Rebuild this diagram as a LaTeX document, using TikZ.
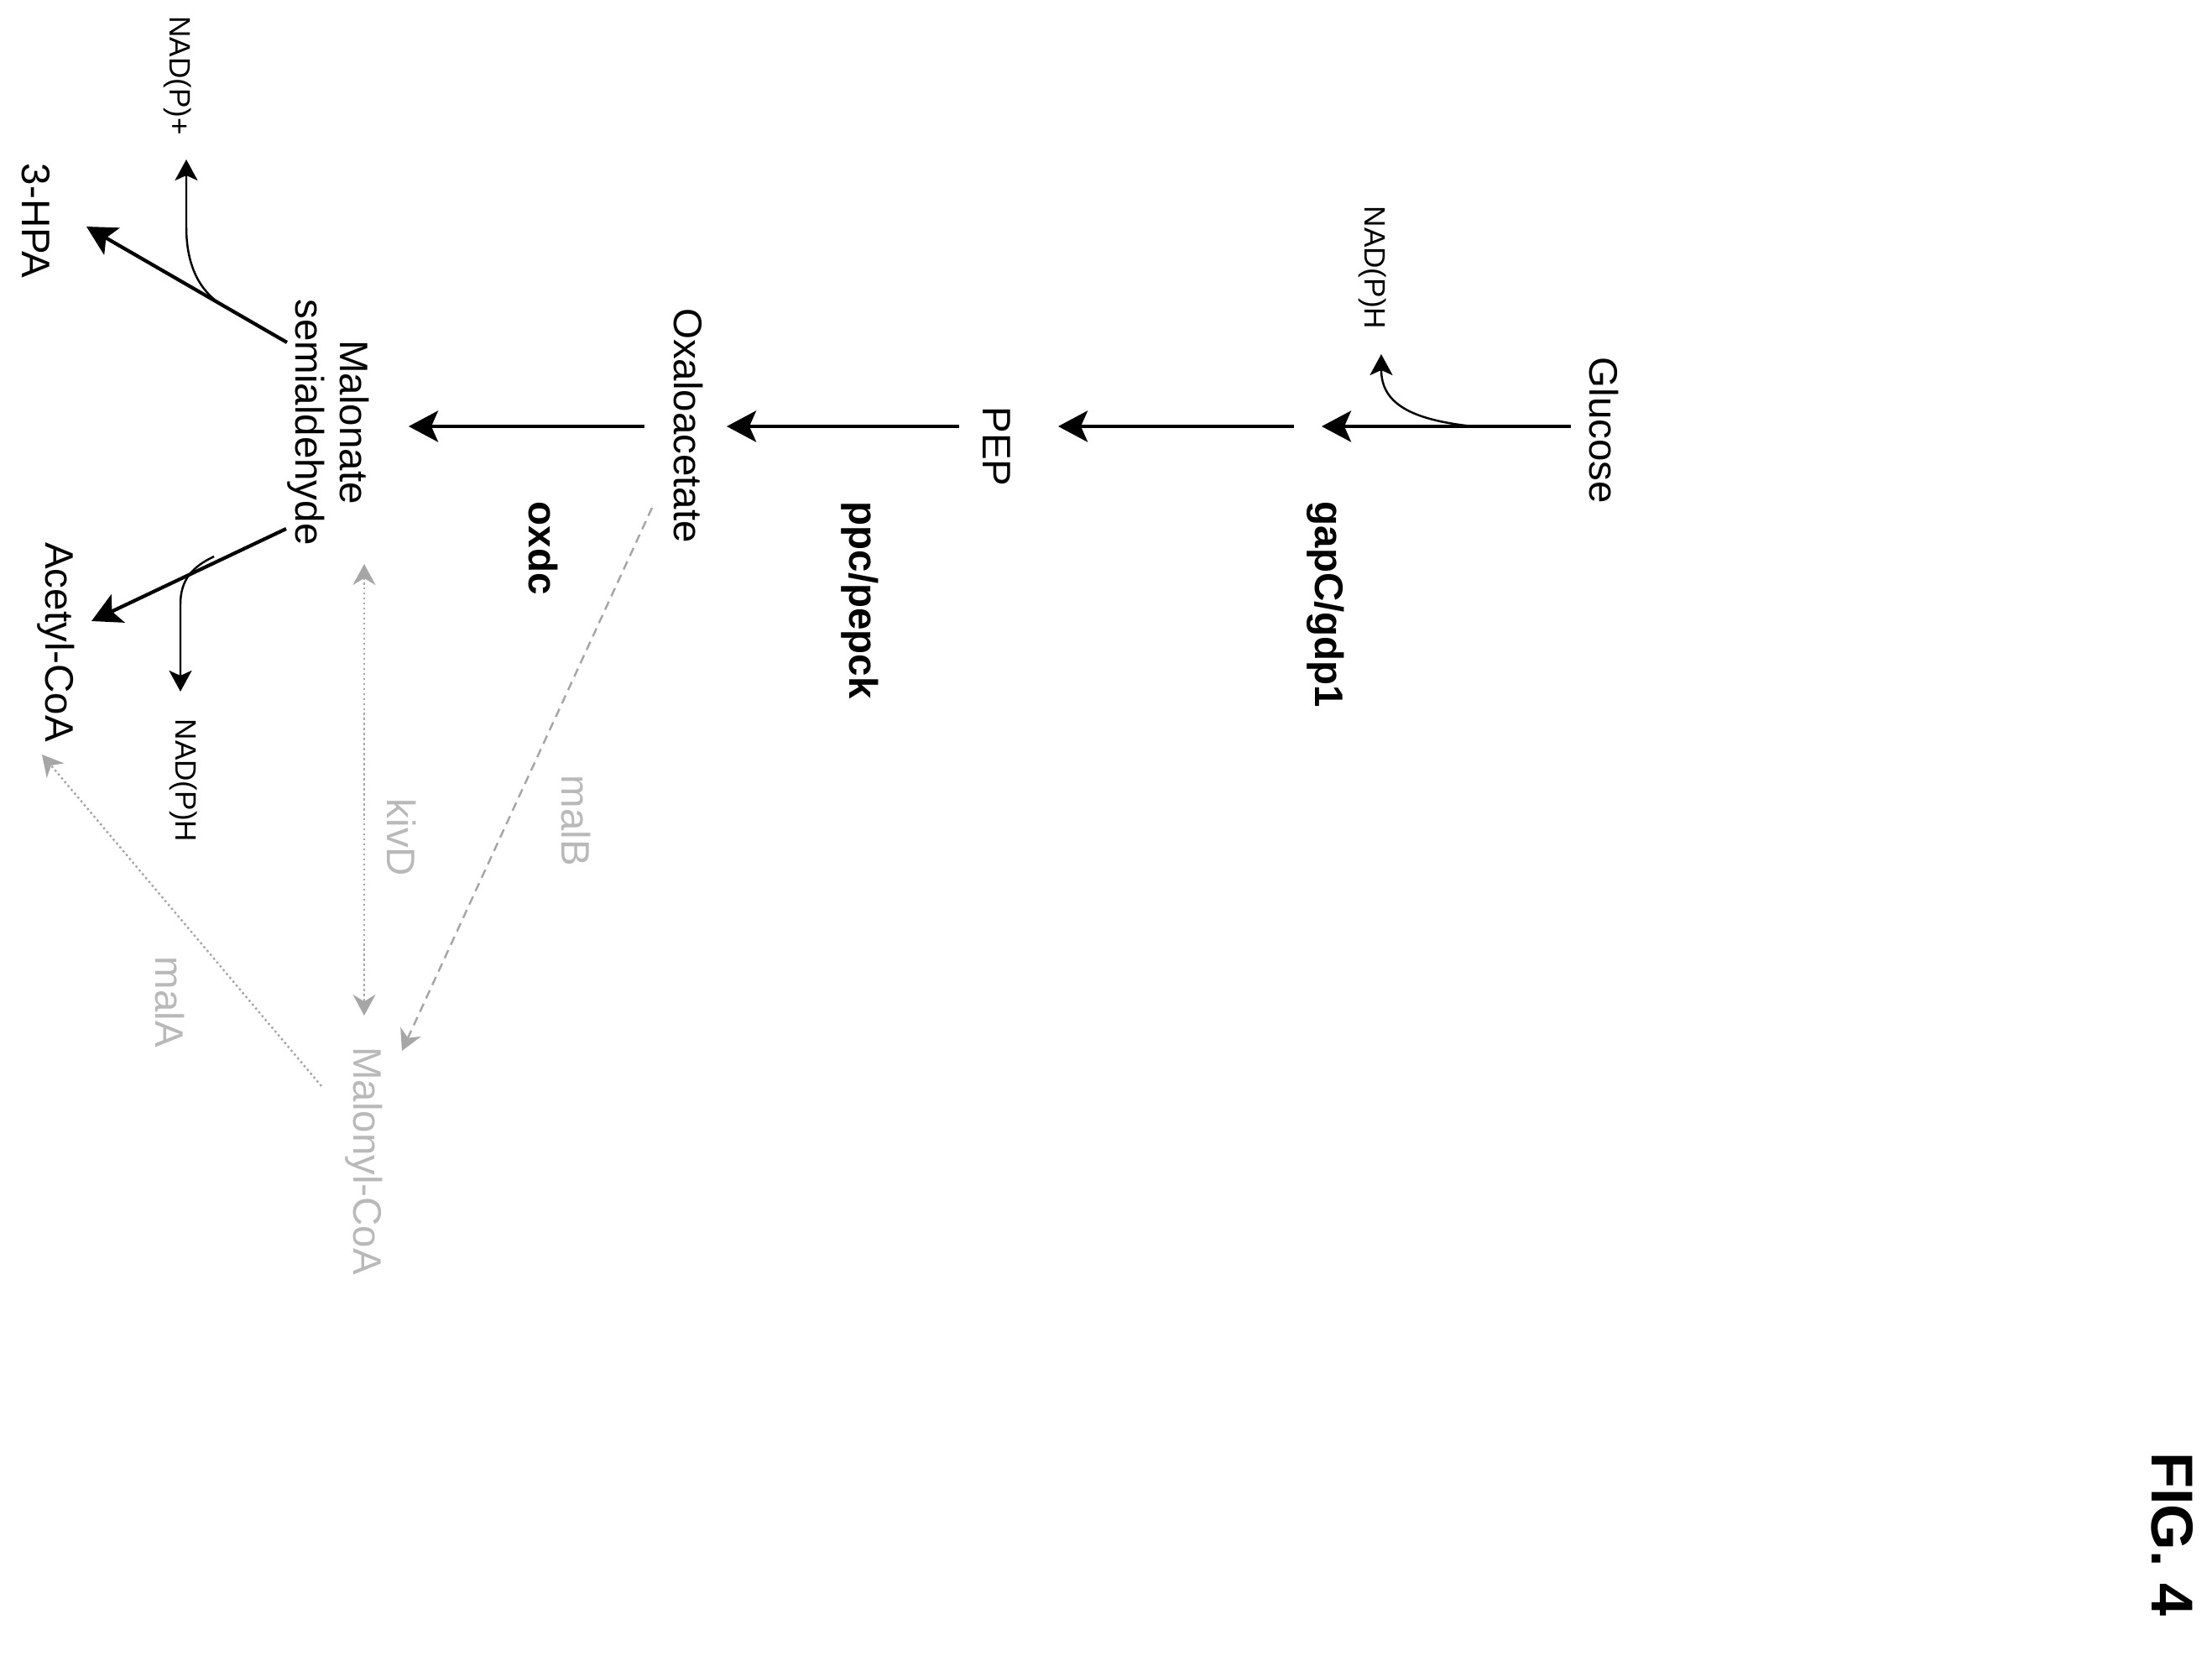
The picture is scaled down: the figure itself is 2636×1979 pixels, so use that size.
\documentclass[tikz,border=0pt]{standalone}
\usepackage{fontspec}
\setmainfont{Liberation Sans}
\usetikzlibrary{arrows.meta}
\begin{document}
\begin{tikzpicture}[x=0.01cm,y=-0.01cm,
  met/.style={rotate=-90,inner sep=0pt,font=\fontsize{13.5}{15}\selectfont,align=center},
  cof/.style={rotate=-90,inner sep=0pt,font=\fontsize{10}{12}\selectfont},
  gene/.style={rotate=-90,inner sep=0pt,anchor=west,font=\fontsize{13.5}{15}\selectfont\bfseries},
  faint/.style={rotate=-90,inner sep=0pt,font=\fontsize{13.5}{15}\selectfont,text=gray!55},
  main/.style={line width=1.2pt,-{Stealth[length=3.5mm,width=3.7mm,inset=0.8mm]}},
  side/.style={line width=0.7pt,-{Stealth[length=2.5mm,width=2.7mm,inset=0.6mm]}},
  dotl/.style={gray!70,line width=0.7pt,densely dotted,-{Stealth[length=2.5mm,width=2.7mm]}},
  dashl/.style={gray!70,line width=0.7pt,densely dashed,-{Stealth[length=2.5mm,width=2.7mm]}}]
\useasboundingbox (0,0) rectangle (2636,1979);
% metabolites
\node[met] (glc) at (1911,513) {Glucose};
\node[met] (pep) at (1188,532) {PEP};
\node[met] (oaa) at (820,507) {Oxaloacetate};
\node[met] (msa) at (391,503) {Malonate\\semialdehyde};
\node[met] (hpa) at (43,263) {3-HPA};
\node[met] (aco) at (67,765) {Acetyl-CoA};
\node[faint] (mco) at (434,1383) {Malonyl-CoA};
% cofactors
\node[cof] (nadh1) at (1636,319) {NAD(P)H};
\node[cof] (nadp) at (212,90) {NAD(P)+};
\node[cof] (nadh2) at (219,930) {NAD(P)H};
% genes
\node[gene] (g1) at (1580,597) {gapC/gdp1};
\node[gene] (g2) at (1025,597) {ppc/pepck};
\node[gene] (g3) at (647,597) {oxdc};
\node[faint] (kivd) at (479,998) {kivD};
\node[faint] (malb) at (686,978) {malB};
\node[faint] (mala) at (202,1194) {malA};
\node[rotate=-90,inner sep=0pt,font=\fontsize{20}{22}\selectfont\bfseries] (fig) at (2589,1828) {FIG. 4};
% end points
\coordinate (a1s) at (1872,508); \coordinate (a1e) at (1575,508);
\coordinate (a2s) at (1542,508); \coordinate (a2e) at (1261,508);
\coordinate (a3s) at (1143,508); \coordinate (a3e) at (866,508);
\coordinate (a4s) at (768,508); \coordinate (a4e) at (487,508);
\coordinate (b1) at (1755,508); \coordinate (b1e) at (1646,422);
\coordinate (hs) at (342,408); \coordinate (he) at (103,270);
\coordinate (hb) at (270,367); \coordinate (hbe) at (222,190);
\coordinate (as) at (341,630); \coordinate (ae) at (109,740);
\coordinate (ab) at (255,663); \coordinate (abe) at (215,824);
\coordinate (ks) at (434,672); \coordinate (ke) at (434,1210);
\coordinate (ms) at (777,605); \coordinate (me) at (479,1252);
\coordinate (ls) at (383,1294); \coordinate (le) at (50,899);
% main arrows
\draw[main] (a1s) -- (a1e);
\draw[main] (a2s) -- (a2e);
\draw[main] (a3s) -- (a3e);
\draw[main] (a4s) -- (a4e);
\draw[main] (hs) -- (he);
\draw[main] (as) -- (ae);
% side branches
\draw[side] (b1) .. controls (1680,500) and (1646,480) .. (b1e);
\draw[side] (hb) .. controls (240,350) and (222,320) .. (222,270) -- (hbe);
\draw[side] (ab) .. controls (230,675) and (215,690) .. (215,720) -- (abe);
% faint arrows
\draw[dotl,{Stealth[length=2.5mm,width=2.7mm]}-{Stealth[length=2.5mm,width=2.7mm]}] (ks) -- (ke);
\draw[dashl] (ms) -- (me);
\draw[dotl] (ls) -- (le);
\end{tikzpicture}
\end{document}
